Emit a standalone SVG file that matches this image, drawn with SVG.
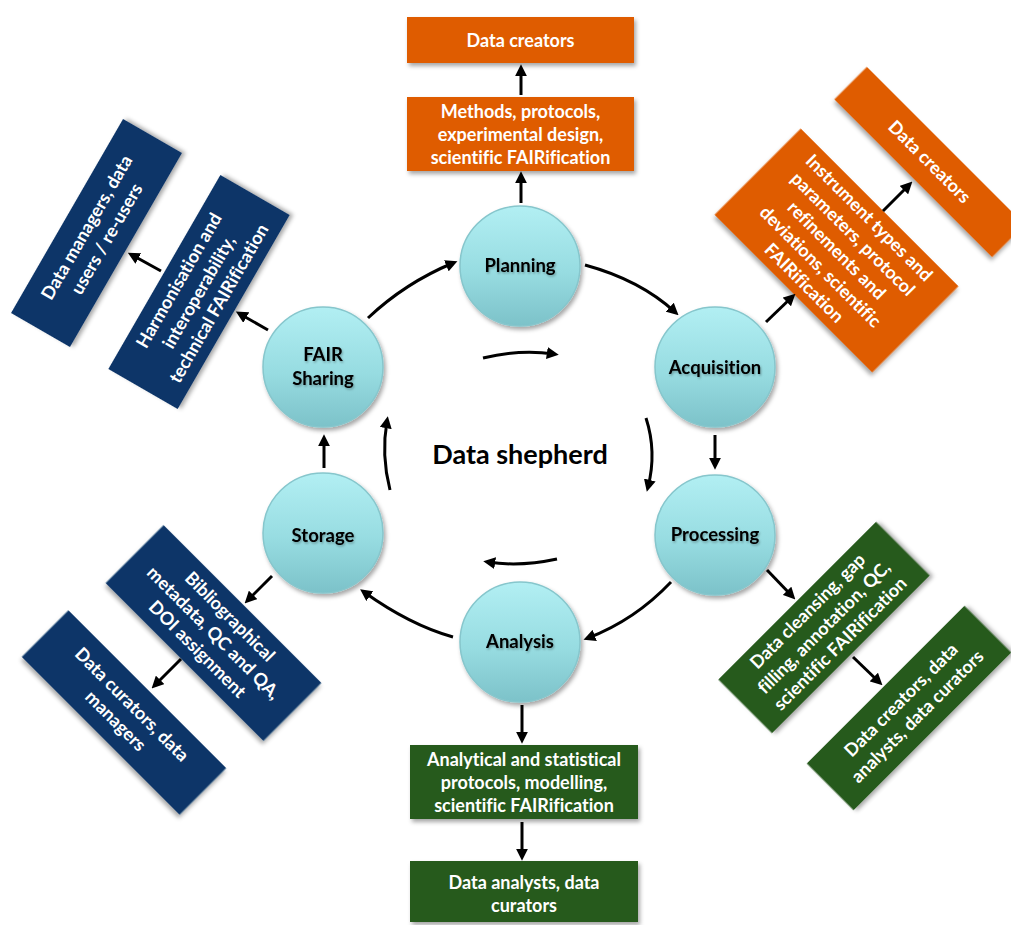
<svg xmlns="http://www.w3.org/2000/svg" width="1011" height="925" viewBox="0 0 1011 925">
  <defs>
    <linearGradient id="ball" x1="0" y1="0" x2="0" y2="1">
      <stop offset="0" stop-color="#b2eff3"/>
      <stop offset="0.55" stop-color="#97dce1"/>
      <stop offset="1" stop-color="#7cc2c9"/>
    </linearGradient>
    <filter id="shadow" x="-20%" y="-20%" width="140%" height="140%">
      <feDropShadow dx="2" dy="3" stdDeviation="2" flood-color="#000" flood-opacity="0.35"/>
    </filter>
    <filter id="tshadow" x="-10%" y="-30%" width="120%" height="160%">
      <feDropShadow dx="1" dy="1.5" stdDeviation="1" flood-color="#000" flood-opacity="0.3"/>
    </filter>
    <marker id="ah" viewBox="0 0 10 10" refX="6" refY="5" markerWidth="12" markerHeight="12" markerUnits="userSpaceOnUse" orient="auto">
      <path d="M0,0 L10,5 L0,10 z" fill="#000"/>
    </marker>
  </defs>
  <style>
    text { font-variant-ligatures: none; }
    .orange { fill: #df5c05; filter: url(#shadow); }
    .navy { fill: #0c3668; filter: url(#shadow); }
    .green { fill: #285a1e; filter: url(#shadow); }
    .btxt { font-family: Lato, "Open Sans", sans-serif; font-weight: 700; font-size: 18px; fill: #fff; text-anchor: middle; }
    .circle { fill: url(#ball); stroke: #86c6cc; stroke-width: 1.5; filter: url(#shadow); }
    .ctxt { font-family: Lato, "Open Sans", sans-serif; font-weight: 700; font-size: 18.5px; fill: #000; text-anchor: middle; filter: url(#tshadow); }
    .title { font-family: Lato, "Open Sans", sans-serif; font-weight: 700; font-size: 27px; fill: #000; text-anchor: middle; }
    .arr { fill: none; stroke: #000; stroke-width: 3; marker-end: url(#ah); }
  </style>

  <rect width="1011" height="925" fill="#fff"/>

  <!-- cycle stages -->
  <g id="planning"><circle class="circle" cx="520" cy="266" r="60"/><text class="ctxt" x="520" y="272">Planning</text></g>
  <g id="acquisition"><circle class="circle" cx="715" cy="367" r="60"/><text class="ctxt" x="715" y="374">Acquisition</text></g>
  <g id="processing"><circle class="circle" cx="715" cy="535" r="60"/><text class="ctxt" x="715" y="541">Processing</text></g>
  <g id="analysis"><circle class="circle" cx="520" cy="642" r="60"/><text class="ctxt" x="520" y="648">Analysis</text></g>
  <g id="storage"><circle class="circle" cx="323" cy="533" r="60"/><text class="ctxt" x="323" y="542">Storage</text></g>
  <g id="fair-sharing"><circle class="circle" cx="323" cy="367" r="60"/><text class="ctxt" x="323" y="361">FAIR</text><text class="ctxt" x="323" y="385">Sharing</text></g>

  <g id="data-shepherd"><text class="title" x="520" y="464">Data shepherd</text></g>

  <!-- planning outputs -->
  <g id="planning-roles"><rect class="orange" x="407" y="17" width="227" height="46"/><text class="btxt" x="520.5" y="47">Data creators</text></g>
  <g id="planning-tasks"><rect class="orange" x="407" y="97" width="227" height="74"/>
    <text class="btxt" x="520.5" y="118">Methods, protocols,</text>
    <text class="btxt" x="520.5" y="141">experimental design,</text>
    <text class="btxt" x="520.5" y="164">scientific FAIRification</text>
  </g>

  <!-- acquisition outputs -->
  <g id="acquisition-tasks" transform="translate(836.5,250.5) rotate(45)"><rect class="orange" x="-111.5" y="-61" width="223" height="122"/>
    <text class="btxt" x="0" y="-40">Instrument types and</text>
    <text class="btxt" x="0" y="-17">parameters, protocol</text>
    <text class="btxt" x="0" y="6">refinements and</text>
    <text class="btxt" x="0" y="29">deviations, scientific</text>
    <text class="btxt" x="0" y="52">FAIRification</text>
  </g>
  <g id="acquisition-roles" transform="translate(929.5,162) rotate(45)"><rect class="orange" x="-111.5" y="-23" width="223" height="46"/>
    <text class="btxt" x="0" y="6">Data creators</text>
  </g>

  <!-- processing outputs -->
  <g id="processing-tasks" transform="translate(824,627.5) rotate(-45)"><rect class="green" x="-111.5" y="-38" width="223" height="76"/>
    <text class="btxt" x="0" y="-17">Data cleansing, gap</text>
    <text class="btxt" x="0" y="6">filling, annotation, QC,</text>
    <text class="btxt" x="0" y="29">scientific FAIRification</text>
  </g>
  <g id="processing-roles" transform="translate(909,708) rotate(-45)"><rect class="green" x="-111.5" y="-33" width="223" height="66"/>
    <text class="btxt" x="0" y="-5">Data creators, data</text>
    <text class="btxt" x="0" y="18">analysts, data curators</text>
  </g>

  <!-- analysis outputs -->
  <g id="analysis-tasks"><rect class="green" x="410" y="745" width="228" height="74"/>
    <text class="btxt" x="524" y="766">Analytical and statistical</text>
    <text class="btxt" x="524" y="789">protocols, modelling,</text>
    <text class="btxt" x="524" y="812">scientific FAIRification</text>
  </g>
  <g id="analysis-roles"><rect class="green" x="410" y="861" width="228" height="61"/>
    <text class="btxt" x="524" y="889">Data analysts, data</text>
    <text class="btxt" x="524" y="912">curators</text>
  </g>

  <!-- storage outputs -->
  <g id="storage-tasks" transform="translate(213.5,633) rotate(45)"><rect class="navy" x="-111.5" y="-41" width="223" height="82"/>
    <text class="btxt" x="0" y="-17">Bibliographical</text>
    <text class="btxt" x="0" y="6">metadata, QC and QA,</text>
    <text class="btxt" x="0" y="29">DOI assignment</text>
  </g>
  <g id="storage-roles" transform="translate(124,712.5) rotate(45)"><rect class="navy" x="-111.5" y="-33" width="223" height="66"/>
    <text class="btxt" x="0" y="-5">Data curators, data</text>
    <text class="btxt" x="0" y="18">managers</text>
  </g>

  <!-- sharing outputs -->
  <g id="sharing-tasks" transform="translate(199,292) rotate(-60)"><rect class="navy" x="-112" y="-40" width="224" height="80"/>
    <text class="btxt" x="0" y="-17">Harmonisation and</text>
    <text class="btxt" x="0" y="6">interoperability,</text>
    <text class="btxt" x="0" y="29">technical FAIRification</text>
  </g>
  <g id="sharing-roles" transform="translate(96.5,233) rotate(-60)"><rect class="navy" x="-112" y="-34" width="224" height="68"/>
    <text class="btxt" x="0" y="-5">Data managers, data</text>
    <text class="btxt" x="0" y="18">users / re-users</text>
  </g>

  <!-- connectors -->
  <g id="connectors">
    <path class="arr" d="M521,95 L521,69"/>
    <path class="arr" d="M521,203 L521,176"/>
    <path class="arr" d="M766,322 L792,297"/>
    <path class="arr" d="M883,211 L909,185"/>
    <path class="arr" d="M715,435 L715,465"/>
    <path class="arr" d="M767,570 L792,596"/>
    <path class="arr" d="M853,657 L879,682"/>
    <path class="arr" d="M522,705 L522,739"/>
    <path class="arr" d="M522,822 L522,856"/>
    <path class="arr" d="M272,576 L248,600"/>
    <path class="arr" d="M181,659 L155,685"/>
    <path class="arr" d="M324,468 L324,439"/>
    <path class="arr" d="M268,330 L240,314"/>
    <path class="arr" d="M161,271 L132,255"/>
    <!-- outer cycle -->
    <path class="arr" d="M368,318 Q405,283 453,263"/>
    <path class="arr" d="M585,265 Q640,280 675,312"/>
    <path class="arr" d="M671,582 Q635,620 588,638"/>
    <path class="arr" d="M453,637 Q410,625 364,592"/>
    <!-- inner cycle -->
    <path class="arr" d="M483,358 Q520,349 554,354"/>
    <path class="arr" d="M646,418 Q657,452 648,487"/>
    <path class="arr" d="M557,559 Q520,567 488,562"/>
    <path class="arr" d="M390,490 Q381,455 387,421"/>
  </g>
</svg>
